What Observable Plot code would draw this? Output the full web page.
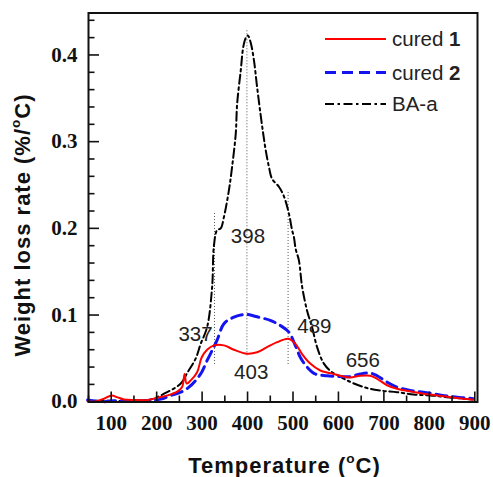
<!DOCTYPE html>
<html>
<head>
<meta charset="utf-8">
<script src="https://cdn.jsdelivr.net/npm/d3@7"></script>
<script src="https://cdn.jsdelivr.net/npm/@observablehq/plot@0.6"></script>
<style>
  html, body { margin: 0; padding: 0; background: #fff; }
  #wrap { position: relative; width: 493px; height: 477px; overflow: hidden; }
  .ttl { position: absolute; font-family: "Liberation Sans", Arial, sans-serif; font-weight: bold;
         font-size: 22px; letter-spacing: 1px; white-space: nowrap; color: #111; line-height: 1; }
  .ttl sup { font-size: 0.62em; vertical-align: 0.7em; line-height: 0; }
  #ytitle { left: 23px; top: 225px; transform: translate(-50%, -50%) rotate(-90deg); }
  #xtitle { left: 284.5px; top: 466px; transform: translate(-50%, -50%); }
  #legend { position: absolute; left: 0; top: 0; pointer-events: none; }
</style>
</head>
<body>
<div id="wrap"></div>
<script>
// ---- data (temperature °C, weight loss rate %/°C) ----
const baaT = [50,100,150,183,223,253,267,286,297,311,322,326,333,341,348,359,366,374,377,385,390.5,395.5,400.5,406.5,414,421,428.5,434.5,440,447,454,469,480,491,498,502,506,513,520,531,542,553,568,586,601,619,656,692,729,765,802,839,875,897];
const baaV = [0.001,0.001,0.001,0.002,0.011,0.021,0.033,0.050,0.067,0.086,0.132,0.180,0.198,0.200,0.213,0.244,0.271,0.309,0.343,0.382,0.409,0.419,0.4225,0.415,0.394,0.363,0.332,0.309,0.290,0.271,0.257,0.248,0.237,0.217,0.198,0.190,0.176,0.163,0.133,0.105,0.086,0.063,0.044,0.034,0.030,0.0246,0.0168,0.013,0.011,0.0084,0.0073,0.0053,0.0035,0.0023];

const c1T = [48,62,84,101,114,128,150,180,201,224,246,256,261.5,266,275,289,299,311,326,348,370,399,421,443,465,490,505,520,538,560,582,604,626,648,670,685,707,729,758,787,817,846,875,897];
const c1V = [0.0005,0.000,0.0035,0.0073,0.005,0.0027,0.002,0.002,0.0046,0.0073,0.012,0.017,0.032,0.021,0.0246,0.034,0.051,0.060,0.065,0.065,0.060,0.0554,0.057,0.063,0.0687,0.0727,0.067,0.055,0.044,0.036,0.033,0.030,0.028,0.030,0.030,0.0265,0.019,0.015,0.0119,0.0092,0.0073,0.0053,0.0035,0.0023];

const c2T = [48,77,106,150,180,209,231,253,271,286,300,311,320,333,348,370,396,421,450,472,491,505,516,531,549,575,604,626,648,670,685,707,729,758,787,817,846,875,897];
const c2V = [0.002,0.000,0.001,0.001,0.0015,0.003,0.0073,0.011,0.0168,0.0246,0.035,0.0476,0.057,0.071,0.090,0.0976,0.1007,0.098,0.0938,0.088,0.0803,0.065,0.0514,0.040,0.032,0.030,0.029,0.029,0.032,0.033,0.030,0.0226,0.0168,0.013,0.011,0.0084,0.006,0.0046,0.0035];

// peak marker lines (x position, bottom, top)
const peakLineX = [327.3, 398.6, 489.2];
const peakLineY1 = [0.043, 0.053, 0.043];
const peakLineY2 = [0.2185, 0.429, 0.2436];

// peak annotations
const annText = ["337", "398", "489", "403", "656"];
const annX = [285.6, 400.9, 547, 408, 653.5];
const annY = [0.0776, 0.1905, 0.0863, 0.0342, 0.0476];

// ticks
const xMajor = [100,200,300,400,500,600,700,800,900];
const xMinor = [50,150,250,350,450,550,650,750,850];
const yMajor = [0.0,0.1,0.2,0.3,0.4];
const yMinor = [0.02,0.04,0.06,0.08,0.12,0.14,0.16,0.18,0.22,0.24,0.26,0.28,0.32,0.34,0.36,0.38,0.42,0.44];

// legend
const seriesName = ["cured ", "cured ", "BA-a"];
const seriesBold = ["1", "2", ""];

// ---- build tables ----
const baa = baaT.map((t, i) => ({t, v: baaV[i]}));
const c1 = c1T.map((t, i) => ({t, v: c1V[i]}));
const c2 = c2T.map((t, i) => ({t, v: c2V[i]}));
const peaks = peakLineX.map((x, i) => ({x, y1: peakLineY1[i], y2: peakLineY2[i]}));
const anns = annText.map((s, i) => ({s, x: annX[i], y: annY[i]}));

const W = 493, H = 477, ML = 88, MR = 16, MT = 12.5, MB = 75.5;
const FW = W - ML - MR, FH = H - MT - MB;

const styles = [
  {stroke: "#ff0000", width: 2, dash: null},
  {stroke: "#1414f0", width: 3, dash: "11,6"},
  {stroke: "#000000", width: 2, dash: "9,3.5,2.5,3.5"}
];

const serif = "'Liberation Serif', 'Times New Roman', serif";
const sans = "'Liberation Sans', Arial, sans-serif";

const chart = Plot.plot({
  width: W, height: H,
  marginLeft: ML, marginRight: MR, marginTop: MT, marginBottom: MB,
  x: {domain: [50, 906]},
  y: {domain: [-0.0003, 0.4484]},
  style: {background: "#fff", color: "#111"},
  marks: [
    Plot.ruleX(peaks, {x: "x", y1: "y1", y2: "y2", stroke: "#555", strokeWidth: 1, strokeDasharray: "1,2"}),
    Plot.line(baa, {x: "t", y: "v", stroke: styles[2].stroke, strokeWidth: styles[2].width, strokeDasharray: styles[2].dash, curve: "catmull-rom"}),
    Plot.line(c2, {x: "t", y: "v", stroke: styles[1].stroke, strokeWidth: styles[1].width, strokeDasharray: styles[1].dash, curve: "catmull-rom"}),
    Plot.line(c1, {x: "t", y: "v", stroke: styles[0].stroke, strokeWidth: styles[0].width, curve: "catmull-rom"}),
    Plot.text(anns, {x: "x", y: "y", text: "s", fontSize: 20.5, fontFamily: sans, fill: "#222"}),
    Plot.tickX(xMajor, {x: d => d, insetTop: FH - 10, stroke: "#111", strokeWidth: 1.6}),
    Plot.tickX(xMinor, {x: d => d, insetTop: FH - 6, stroke: "#111", strokeWidth: 1.6}),
    Plot.tickY(yMajor, {y: d => d, insetRight: FW - 11, stroke: "#111", strokeWidth: 1.6}),
    Plot.tickY(yMinor, {y: d => d, insetRight: FW - 6.5, stroke: "#111", strokeWidth: 1.6}),
    Plot.axisX({ticks: xMajor, tickSize: 0, tickPadding: 13, tickFormat: d => String(d), label: null,
                fontSize: 21, fontFamily: serif, fontWeight: "bold", fill: "#111"}),
    Plot.axisY({ticks: yMajor, tickSize: 0, tickPadding: 11, tickFormat: d3.format(".1f"), label: null,
                fontSize: 21, fontFamily: serif, fontWeight: "bold", fill: "#111"}),
    Plot.frame({stroke: "#111", strokeWidth: 2})
  ]
});

const wrap = document.getElementById("wrap");
wrap.appendChild(chart);

const yt = document.createElement("div");
yt.id = "ytitle"; yt.className = "ttl";
yt.innerHTML = "Weight loss rate (%/<sup>o</sup>C)";
wrap.appendChild(yt);

const xt = document.createElement("div");
xt.id = "xtitle"; xt.className = "ttl";
xt.innerHTML = "Temperature (<sup>o</sup>C)";
wrap.appendChild(xt);

// legend overlay
const NS = "http://www.w3.org/2000/svg";
const lg = document.createElementNS(NS, "svg");
lg.setAttribute("id", "legend");
lg.setAttribute("width", W); lg.setAttribute("height", H);
const rowY = [39, 72.5, 104];
seriesName.forEach((name, i) => {
  const s = styles[i];
  const ln = document.createElementNS(NS, "line");
  ln.setAttribute("x1", 325); ln.setAttribute("x2", 386);
  ln.setAttribute("y1", rowY[i]); ln.setAttribute("y2", rowY[i]);
  ln.setAttribute("stroke", s.stroke); ln.setAttribute("stroke-width", s.width);
  if (s.dash) ln.setAttribute("stroke-dasharray", s.dash);
  lg.appendChild(ln);
  const tx = document.createElementNS(NS, "text");
  tx.setAttribute("x", 392); tx.setAttribute("y", rowY[i]);
  tx.setAttribute("dy", "0.36em");
  tx.setAttribute("font-family", sans); tx.setAttribute("font-size", 20.5);
  tx.setAttribute("fill", "#222");
  tx.appendChild(document.createTextNode(name));
  if (seriesBold[i]) {
    const b = document.createElementNS(NS, "tspan");
    b.setAttribute("font-weight", "bold");
    b.textContent = seriesBold[i];
    tx.appendChild(b);
  }
  lg.appendChild(tx);
});
wrap.appendChild(lg);
</script>
</body>
</html>
